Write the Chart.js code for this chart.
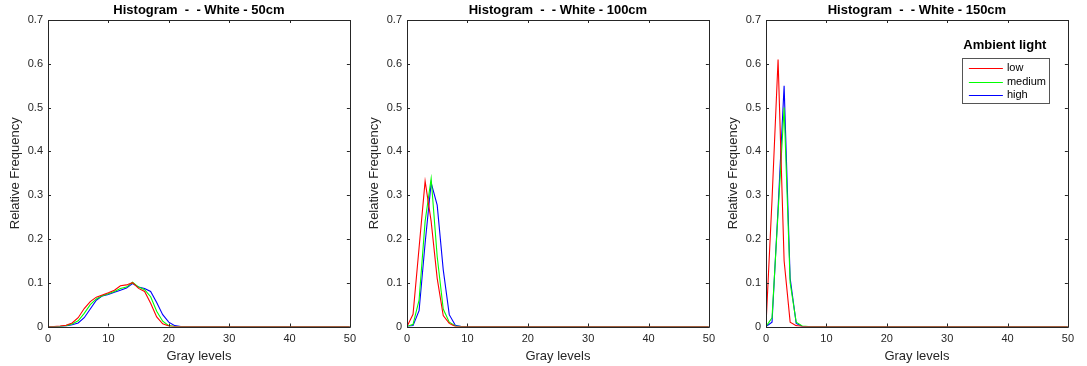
<!DOCTYPE html>
<html>
<head>
<meta charset="utf-8">
<script src="https://cdn.jsdelivr.net/npm/chart.js@4.4.1/dist/chart.umd.min.js"></script>
<style>
  html, body { margin: 0; padding: 0; background: #ffffff; }
  body { width: 1087px; height: 366px; position: relative; overflow: hidden; }
  canvas { position: absolute; top: 0; }
</style>
</head>
<body>
<canvas id="c1" width="362" height="366" style="left:0px"></canvas>
<canvas id="c2" width="362" height="366" style="left:359px"></canvas>
<canvas id="c3" width="362" height="366" style="left:718px"></canvas>
<script>
// ---- Data ----
const grayLevels = [0,1,2,3,4,5,6,7,8,9,10,11,12,13,14,15,16,17,18,19,20,21,22,23,24,25,26,27,28,29,30,31,32,33,34,35,36,37,38,39,40,41,42,43,44,45,46,47,48,49,50];

const titles = ["Histogram  -  - White - 50cm", "Histogram  -  - White - 100cm", "Histogram  -  - White - 150cm"];
const seriesNames = ["low", "medium", "high"];
const legendTitle = "Ambient light";
const xTicks = [0, 10, 20, 30, 40, 50];
const yTicks = [0, 0.1, 0.2, 0.3, 0.4, 0.5, 0.6, 0.7];

const low50 = [0,0,0.001,0.003,0.008,0.02,0.041,0.057,0.067,0.072,0.077,0.083,0.093,0.095,0.100,0.087,0.080,0.053,0.022,0.006,0.001,0,0,0,0,0,0,0,0,0,0,0,0,0,0,0,0,0,0,0,0,0,0,0,0,0,0,0,0,0,0];
const medium50 = [0,0,0,0.002,0.006,0.013,0.030,0.050,0.063,0.070,0.075,0.080,0.087,0.090,0.101,0.090,0.084,0.068,0.035,0.012,0.002,0,0,0,0,0,0,0,0,0,0,0,0,0,0,0,0,0,0,0,0,0,0,0,0,0,0,0,0,0,0];
const high50 = [0,0,0,0.001,0.004,0.008,0.020,0.040,0.060,0.070,0.073,0.078,0.083,0.088,0.098,0.090,0.087,0.080,0.055,0.027,0.010,0.002,0,0,0,0,0,0,0,0,0,0,0,0,0,0,0,0,0,0,0,0,0,0,0,0,0,0,0,0,0];

const low100 = [0,0.028,0.18,0.332,0.24,0.11,0.025,0.007,0,0,0,0,0,0,0,0,0,0,0,0,0,0,0,0,0,0,0,0,0,0,0,0,0,0,0,0,0,0,0,0,0,0,0,0,0,0,0,0,0,0,0];
const medium100 = [0,0.005,0.06,0.24,0.338,0.16,0.04,0.01,0.001,0,0,0,0,0,0,0,0,0,0,0,0,0,0,0,0,0,0,0,0,0,0,0,0,0,0,0,0,0,0,0,0,0,0,0,0,0,0,0,0,0,0];
const high100 = [0,0.002,0.036,0.19,0.328,0.277,0.13,0.027,0.003,0,0,0,0,0,0,0,0,0,0,0,0,0,0,0,0,0,0,0,0,0,0,0,0,0,0,0,0,0,0,0,0,0,0,0,0,0,0,0,0,0,0];

const low150 = [0.003,0.29,0.61,0.15,0.01,0.002,0,0,0,0,0,0,0,0,0,0,0,0,0,0,0,0,0,0,0,0,0,0,0,0,0,0,0,0,0,0,0,0,0,0,0,0,0,0,0,0,0,0,0,0,0];
const medium150 = [0,0.02,0.26,0.50,0.10,0.01,0.001,0,0,0,0,0,0,0,0,0,0,0,0,0,0,0,0,0,0,0,0,0,0,0,0,0,0,0,0,0,0,0,0,0,0,0,0,0,0,0,0,0,0,0,0];
const high150 = [0,0.01,0.27,0.55,0.11,0.007,0,0,0,0,0,0,0,0,0,0,0,0,0,0,0,0,0,0,0,0,0,0,0,0,0,0,0,0,0,0,0,0,0,0,0,0,0,0,0,0,0,0,0,0,0];

const seriesColors = ["#ff0000", "#00ff00", "#0000ff"];
const axisColor = "#262626";
const FONT = "'Liberation Sans', Arial, Helvetica, sans-serif";

function pts(vals) { return grayLevels.map((g, i) => ({ x: g, y: vals[i] })); }

const matlabAxes = {
  id: 'matlabAxes',
  afterDraw(chart, args, opts) {
    const { ctx, chartArea: a, scales } = chart;
    ctx.save();
    ctx.strokeStyle = axisColor;
    ctx.lineWidth = 1;
    ctx.beginPath();
    ctx.rect(Math.round(a.left) + 0.5, Math.round(a.top) + 0.5, Math.round(a.right - a.left), Math.round(a.bottom - a.top));
    ctx.stroke();
    const tl = 3;
    ctx.beginPath();
    xTicks.forEach(v => {
      const px = Math.round(scales.x.getPixelForValue(v)) + 0.5;
      ctx.moveTo(px, a.bottom); ctx.lineTo(px, a.bottom - tl);
      ctx.moveTo(px, a.top); ctx.lineTo(px, a.top + tl);
    });
    yTicks.forEach(v => {
      const py = Math.round(scales.y.getPixelForValue(v)) + 0.5;
      ctx.moveTo(a.left, py); ctx.lineTo(a.left + tl, py);
      ctx.moveTo(a.right, py); ctx.lineTo(a.right - tl, py);
    });
    ctx.stroke();
    // title
    ctx.fillStyle = "#000000";
    ctx.font = "bold 13px " + FONT;
    ctx.textAlign = "center";
    ctx.textBaseline = "middle";
    ctx.fillText(opts.title, (a.left + a.right) / 2, 10.5);
    // legend
    if (opts.legend) {
      const cx = a.right - 63;
      ctx.font = "bold 13px " + FONT;
      ctx.fillText(legendTitle, cx, 45);
      const bx = a.right - 106, by = 58.5, bw = 87, bh = 45;
      ctx.strokeStyle = "#555555";
      ctx.lineWidth = 1;
      ctx.fillStyle = "#ffffff";
      ctx.fillRect(bx, by, bw, bh);
      ctx.strokeRect(Math.round(bx) + 0.5, by, bw, bh);
      ctx.font = "11px " + FONT;
      ctx.textAlign = "left";
      chart.data.datasets.forEach((ds, i) => {
        const y = 68 + i * 13.5;
        ctx.strokeStyle = ds.borderColor;
        ctx.lineWidth = 1.2;
        ctx.beginPath();
        ctx.moveTo(bx + 7, Math.round(y) + 0.5); ctx.lineTo(bx + 41, Math.round(y) + 0.5);
        ctx.stroke();
        ctx.fillStyle = "#000000";
        ctx.fillText(ds.label, bx + 45, y);
      });
    }
    ctx.restore();
  }
};

function makeChart(id, title, vals, showLegend, rightPad) {
  new Chart(document.getElementById(id), {
    type: 'line',
    data: {
      datasets: vals.map((v, i) => ({
        label: seriesNames[i],
        data: pts(v),
        borderColor: seriesColors[i],
        backgroundColor: seriesColors[i],
        borderWidth: 1.1,
        pointRadius: 0,
        tension: 0,
        fill: false
      }))
    },
    options: {
      responsive: false,
      animation: false,
      devicePixelRatio: 1,
      layout: { padding: { top: 20, right: rightPad, left: 0, bottom: 0 } },
      plugins: {
        legend: { display: false },
        title: { display: false },
        tooltip: { enabled: false },
        matlabAxes: { title: title, legend: showLegend }
      },
      scales: {
        x: {
          type: 'linear', min: 0, max: 50,
          afterFit(s) { s.height = 39.5; },
          afterBuildTicks(s) { s.ticks = xTicks.map(v => ({ value: v })); },
          grid: { display: false, drawTicks: false },
          border: { display: false },
          ticks: { color: axisColor, font: { family: FONT, size: 11 }, padding: 6, maxRotation: 0 },
          title: { display: true, text: 'Gray levels', color: axisColor, font: { family: FONT, size: 13 }, padding: { top: 1, bottom: 2 } }
        },
        y: {
          type: 'linear', min: 0, max: 0.7,
          afterFit(s) { s.width = 48; },
          afterBuildTicks(s) { s.ticks = yTicks.map(v => ({ value: v })); },
          grid: { display: false, drawTicks: false },
          border: { display: false },
          ticks: { color: axisColor, font: { family: FONT, size: 11 }, padding: 5,
                   callback: v => String(Math.round(v * 10) / 10) },
          title: { display: true, text: 'Relative Frequency', color: axisColor, font: { family: FONT, size: 13 }, padding: { top: 8, bottom: 2 } }
        }
      }
    },
    plugins: [matlabAxes]
  });
}

makeChart('c1', titles[0], [low50, medium50, high50], false, 10.5);
makeChart('c2', titles[1], [low100, medium100, high100], false, 10.5);
makeChart('c3', titles[2], [low150, medium150, high150], true, 10);
</script>
</body>
</html>
